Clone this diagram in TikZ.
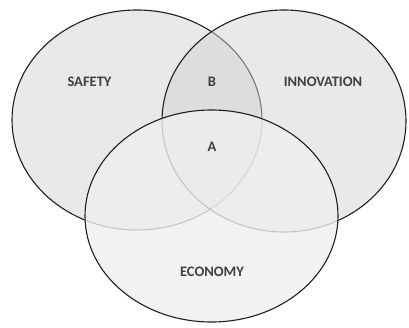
\documentclass[tikz,border=0pt]{standalone}
\usepackage{fontspec}
\setmainfont{Carlito}
\begin{document}
\begin{tikzpicture}[x=1pt,y=-1pt,
  rim/.style={draw=black!88,line width=1.1pt},
  lbl/.style={text=black!75,font=\bfseries\fontsize{14.5}{16}\selectfont,inner sep=0pt},
]
\definecolor{fillA}{RGB}{233,233,233}
\definecolor{fillB}{RGB}{211,211,211}
\definecolor{fillC}{RGB}{239,239,239}
\useasboundingbox (0,0) rectangle (409,327);
% three overlapping sets, drawn back to front
\path[rim,fill=fillA] (137,120) ellipse [x radius=125,y radius=110];
\path[rim,fill=fillB,fill opacity=0.5] (284,121) ellipse [x radius=122,y radius=111];
\path[rim,fill=fillC,fill opacity=0.8] (211.5,216) ellipse [x radius=126.5,y radius=106];
% labels
\node[lbl] (safety) at (89.5,82) {SAFETY};
\node[lbl] (innov) at (323,82) {INNOVATION};
\node[lbl] (b) at (212,82) {B};
\node[lbl] (a) at (212,147) {A};
\node[lbl] (econ) at (212,272) {ECONOMY};
\end{tikzpicture}
\end{document}
